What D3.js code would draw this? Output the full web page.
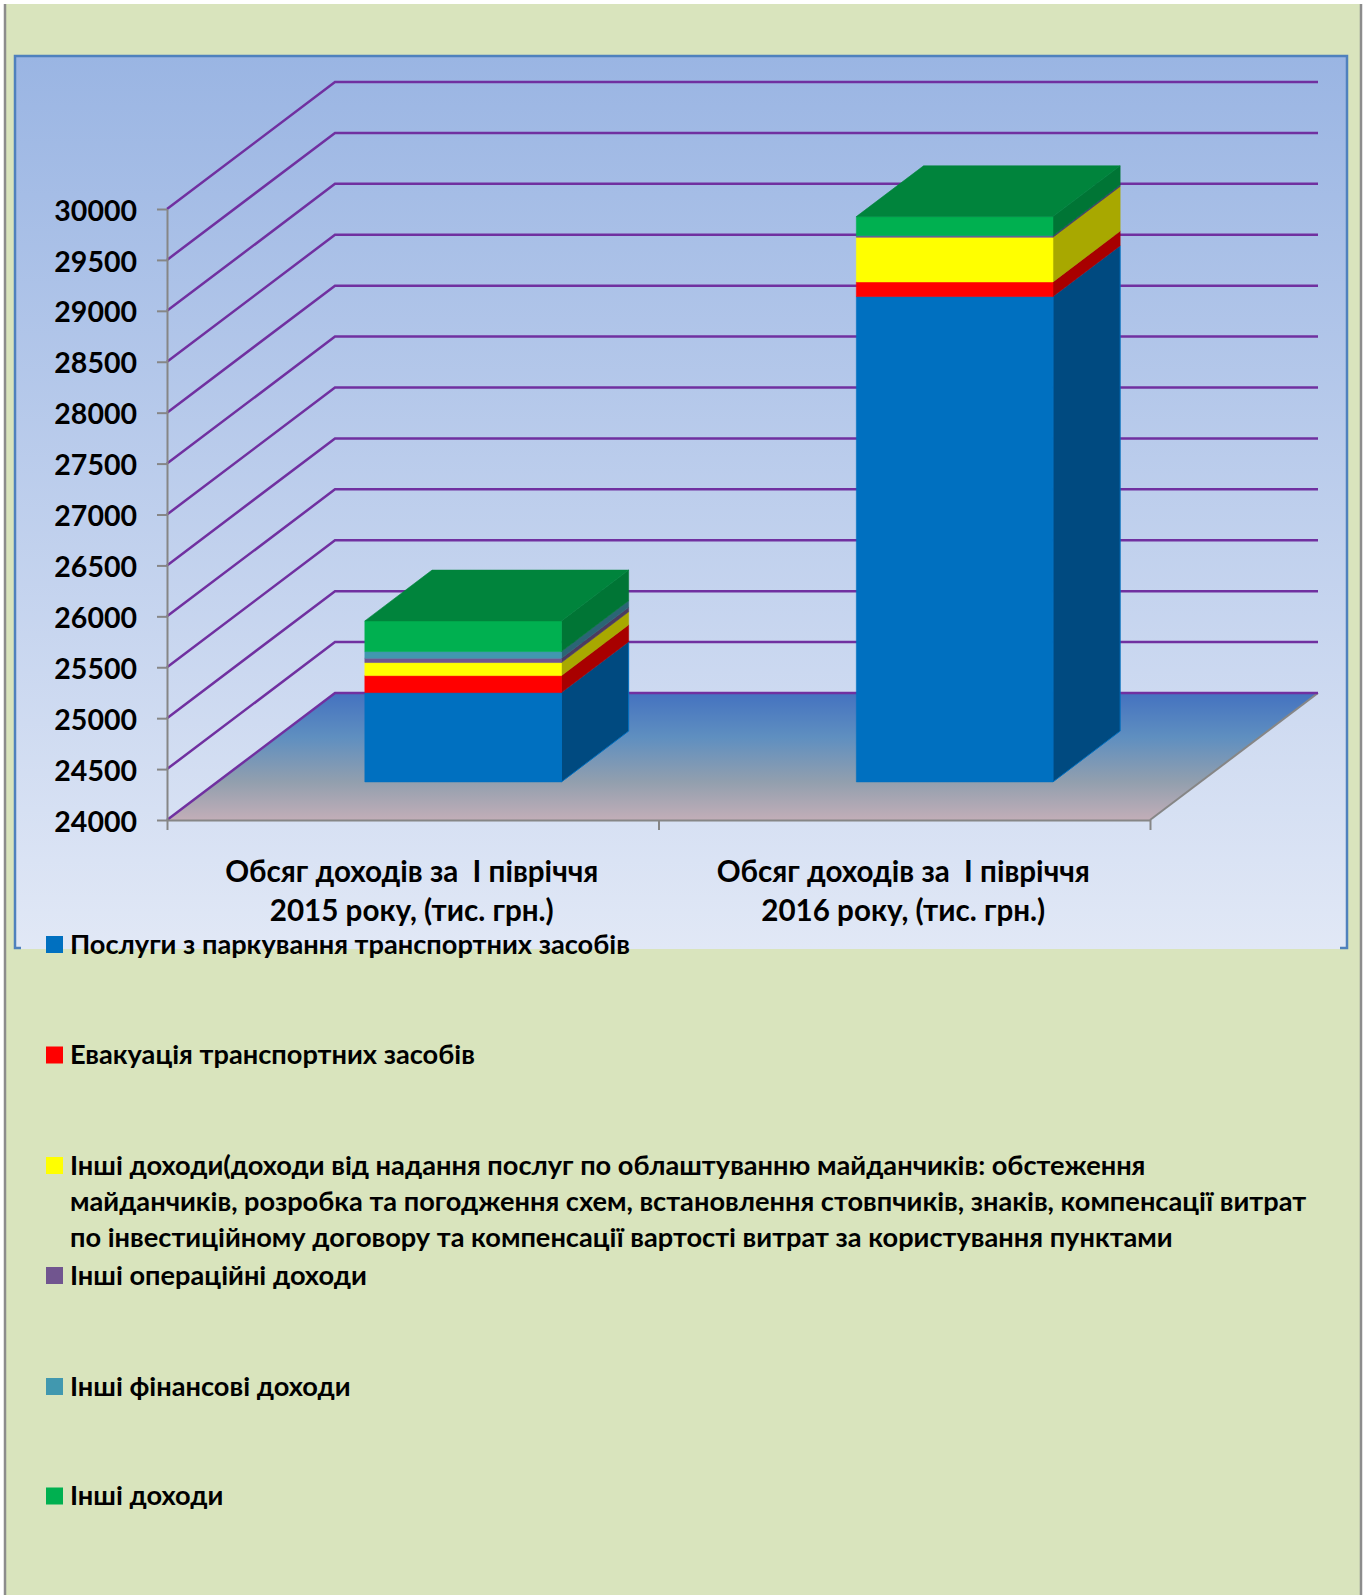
<!DOCTYPE html>
<html lang="en">
<head>
  <meta charset="UTF-8">
  <title>Обсяг доходів</title>
  <script src="https://d3js.org/d3.v7.min.js"></script>
  <style>
    html, body { margin: 0; background: #fff; }
    svg { display: block; }
    text { font-family: Lato, "Open Sans", sans-serif; font-weight: 700; fill: #000; white-space: pre; }
    .axis path, .axis line { stroke: #868686; stroke-width: 2px; }
    .axis text { font-size: 28.5px; font-family: Lato, "Open Sans", sans-serif; font-weight: 700; }
    .grid { fill: none; stroke: #7030a0; stroke-width: 2.5px; }
    .cat { font-size: 29.6px; text-anchor: middle; }
    .legend { font-size: 27.2px; }
  </style>
</head>
<body>
  <div id="chart"></div>

  <script>
    const categories = [
      ["Обсяг доходів за  І півріччя", "2015 року, (тис. грн.)"],
      ["Обсяг доходів за  І півріччя", "2016 року, (тис. грн.)"]
    ];
    const yTicks = [24000, 24500, 25000, 25500, 26000, 26500, 27000, 27500, 28000, 28500, 29000, 29500, 30000];

    // values
    const parking = [24877, 28766];
    const towing = [167, 144];
    const otherServices = [128, 439];
    const otherOperating = [43, 13];
    const otherFinancial = [65, 3];
    const otherIncome = [301, 186];

    const seriesValues = [parking, towing, otherServices, otherOperating, otherFinancial, otherIncome];
    const front = ["#0070c0", "#ff0000", "#ffff00", "#71558f", "#4198af", "#00b050"];
    const side = ["#004a80", "#a80000", "#a8a800", "#4b3b60", "#2b6575", "#007535"];
    const topFace = "#00843c";

    const legendLabels = [
      ["Послуги з паркування транспортних засобів"],
      ["Евакуація транспортних засобів"],
      ["Інші доходи(доходи від надання послуг по облаштуванню майданчиків: обстеження",
       "майданчиків, розробка та погодження схем, встановлення стовпчиків, знаків, компенсації витрат",
       "по інвестиційному договору та компенсації вартості витрат за користування пунктами"],
      ["Інші операційні доходи"],
      ["Інші фінансові доходи"],
      ["Інші доходи"]
    ];
    const legendY = [944.5, 1055, 1165.5, 1275.5, 1386.5, 1496];

    const W = 1368, H = 1595;
    const plotLeft = 167, plotRight = 1150, plotBottom = 820, plotTop = 209;
    const depthX = 168, depthY = 127;   // oblique offset of the back wall

    const svg = d3.select("#chart").append("svg").attr("width", W).attr("height", H);

    const defs = svg.append("defs");
    function gradient(id, stops) {
      const g = defs.append("linearGradient").attr("id", id).attr("x1", 0).attr("x2", 0).attr("y1", 0).attr("y2", 1);
      stops.forEach(s => g.append("stop").attr("offset", s[0]).attr("stop-color", s[1]));
    }
    gradient("panelFill", [[0, "#9ab5e3"], [1, "#e1e8f6"]]);
    gradient("floorFill", [[0, "#4472c0"], [0.35, "#5f8fc0"], [0.7, "#929fae"], [1, "#c2aeb8"]]);

    const y = d3.scaleLinear().domain([24000, 30000]).range([plotBottom, plotTop]);
    const x = d3.scaleBand().domain(d3.range(categories.length)).range([plotLeft, plotRight]).paddingInner(0.6).paddingOuter(0.3);
    const xEdge = d3.scaleLinear().domain([0, categories.length]).range([plotLeft, plotRight]);

    // oblique projection: d = 0 at the front of the floor, 1 at the back wall
    const px = (vx, d) => vx + d * depthX;
    const py = (vy, d) => vy - d * depthY;
    const poly = pts => "M" + pts.map(p => p.join(",")).join("L") + "Z";

    // page
    svg.append("rect").attr("x", 5).attr("y", 4).attr("width", 1356).attr("height", H).attr("fill", "#d9e4bd");
    svg.append("path").attr("d", `M5,4V${H}M1361,4V${H}`).attr("stroke", "#8c8c8c").attr("stroke-width", 2.5).attr("fill", "none");

    // chart panel, cut off by the legend block
    svg.append("rect").attr("x", 15).attr("y", 56).attr("width", 1332).attr("height", 893).attr("fill", "url(#panelFill)");
    svg.append("path")
       .attr("d", "M21,948H15V56H1347V948H1340")
       .attr("fill", "none").attr("stroke", "#4f81bd").attr("stroke-width", 2.5);

    // floor
    svg.append("path")
       .attr("d", poly([[plotLeft, plotBottom], [px(plotLeft, 1), py(plotBottom, 1)], [px(plotRight, 1), py(plotBottom, 1)], [plotRight, plotBottom]]))
       .attr("fill", "url(#floorFill)");
    svg.append("path")
       .attr("d", `M${px(plotRight, 1)},${py(plotBottom, 1)}L${plotRight},${plotBottom}`)
       .attr("stroke", "#868686").attr("stroke-width", 2).attr("fill", "none");

    // gridlines on the side and back wall
    svg.selectAll(".grid")
       .data(yTicks)
       .enter()
       .append("path")
       .attr("class", "grid")
       .attr("d", d => `M${plotLeft},${y(d)}L${px(plotLeft, 1)},${py(y(d), 1)}H${px(plotRight, 1)}`);

    // axes
    svg.append("g")
       .attr("class", "y axis")
       .attr("transform", `translate(${plotLeft},0)`)
       .call(d3.axisLeft(y).tickValues(yTicks).tickFormat(d3.format("d")).tickSize(10).tickPadding(20).tickSizeOuter(0))
       .selectAll("text").attr("dy", "0.39em");
    svg.append("g")
       .attr("class", "x axis")
       .attr("transform", `translate(0,${plotBottom})`)
       .call(d3.axisBottom(xEdge).ticks(categories.length).tickFormat("").tickSize(10).tickSizeOuter(0));

    // stacked bars, front plane at d = 0.3, back at d = 0.7
    const d0 = 0.3, d1 = 0.7;
    const rows = categories.map((c, i) => seriesValues.map(s => s[i]));
    const stack = d3.stack().keys(d3.range(seriesValues.length)).value((r, k) => r[k]);
    const stacked = stack(rows);

    categories.forEach((c, i) => {
      const g = svg.append("g");
      const xa = x(i), xb = x(i) + x.bandwidth();
      stacked.forEach((layer, k) => {
        const lo = y(Math.max(layer[i][0], 24000)), hi = y(layer[i][1]);
        g.append("path")
         .attr("d", poly([[px(xb, d0), py(lo, d0)], [px(xb, d1), py(lo, d1)], [px(xb, d1), py(hi, d1)], [px(xb, d0), py(hi, d0)]]))
         .attr("fill", side[k]).attr("stroke", k === 0 ? front[0] : side[k]).attr("stroke-width", k === 0 ? 1 : 0.6);
        g.append("path")
         .attr("d", poly([[px(xa, d0), py(lo, d0)], [px(xb, d0), py(lo, d0)], [px(xb, d0), py(hi, d0)], [px(xa, d0), py(hi, d0)]]))
         .attr("fill", front[k]).attr("stroke", front[k]).attr("stroke-width", 0.6);
      });
      const yTop = y(stacked[stacked.length - 1][i][1]);
      g.append("path")
       .attr("d", poly([[px(xa, d0), py(yTop, d0)], [px(xa, d1), py(yTop, d1)], [px(xb, d1), py(yTop, d1)], [px(xb, d0), py(yTop, d0)]]))
       .attr("fill", topFace).attr("stroke", topFace).attr("stroke-width", 0.6);
    });

    // category labels
    categories.forEach((lines, i) => {
      lines.forEach((line, j) => {
        svg.append("text")
           .attr("class", "cat")
           .attr("x", x(i) + x.bandwidth() / 2 - 1)
           .attr("y", 882 + j * 38.5)
           .text(line);
      });
    });

    // legend
    legendLabels.forEach((lines, i) => {
      svg.append("rect")
         .attr("x", 46).attr("y", legendY[i] - 8.5)
         .attr("width", 17).attr("height", 17)
         .attr("fill", front[i]);
      lines.forEach((line, j) => {
        svg.append("text")
           .attr("class", "legend")
           .attr("x", 70)
           .attr("y", legendY[i] + 9 + j * 36)
           .text(line);
      });
    });
  </script>
</body>
</html>
